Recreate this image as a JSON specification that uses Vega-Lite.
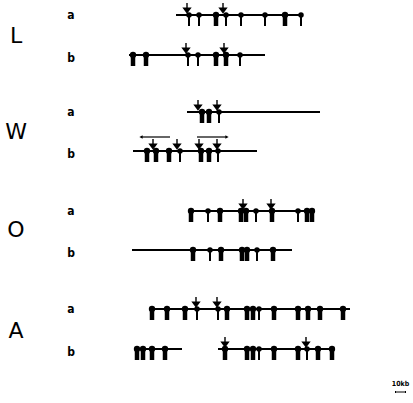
{
  "$schema": "https://vega.github.io/schema/vega-lite/v6.json",
  "width": 413,
  "height": 403,
  "autosize": {"type": "fit", "contains": "padding"},
  "padding": 0,
  "background": "white",
  "config": {"view": {"stroke": null}},
  "datasets": {
    "lines": [
      {"map": "La", "y": 15, "start": 176, "end": 302},
      {"map": "Lb", "y": 55, "start": 129, "end": 265},
      {"map": "Wa", "y": 112, "start": 187, "end": 320},
      {"map": "Wb", "y": 151, "start": 133, "end": 257},
      {"map": "Oa", "y": 211, "start": 191, "end": 313},
      {"map": "Ob", "y": 250, "start": 132, "end": 292},
      {"map": "Aa", "y": 309, "start": 150, "end": 350},
      {"map": "Ab1", "y": 349, "start": 135, "end": 182},
      {"map": "Ab2", "y": 349, "start": 218, "end": 333}
    ],
    "sites": [
      {"map": "La", "y": 15, "x": 189, "kind": "single"},
      {"map": "La", "y": 15, "x": 199, "kind": "single"},
      {"map": "La", "y": 15, "x": 216, "kind": "double"},
      {"map": "La", "y": 15, "x": 226, "kind": "single"},
      {"map": "La", "y": 15, "x": 241, "kind": "single"},
      {"map": "La", "y": 15, "x": 265, "kind": "single"},
      {"map": "La", "y": 15, "x": 285, "kind": "double"},
      {"map": "La", "y": 15, "x": 301, "kind": "single"},
      {"map": "Lb", "y": 55, "x": 133, "kind": "double"},
      {"map": "Lb", "y": 55, "x": 146, "kind": "double"},
      {"map": "Lb", "y": 55, "x": 188, "kind": "single"},
      {"map": "Lb", "y": 55, "x": 198, "kind": "single"},
      {"map": "Lb", "y": 55, "x": 216, "kind": "double"},
      {"map": "Lb", "y": 55, "x": 226, "kind": "double"},
      {"map": "Lb", "y": 55, "x": 240, "kind": "single"},
      {"map": "Wa", "y": 112, "x": 202, "kind": "double"},
      {"map": "Wa", "y": 112, "x": 209, "kind": "double"},
      {"map": "Wa", "y": 112, "x": 219, "kind": "single"},
      {"map": "Wb", "y": 151, "x": 147, "kind": "double"},
      {"map": "Wb", "y": 151, "x": 156, "kind": "double"},
      {"map": "Wb", "y": 151, "x": 169, "kind": "double"},
      {"map": "Wb", "y": 151, "x": 180, "kind": "single"},
      {"map": "Wb", "y": 151, "x": 201, "kind": "double"},
      {"map": "Wb", "y": 151, "x": 209, "kind": "double"},
      {"map": "Wb", "y": 151, "x": 218, "kind": "single"},
      {"map": "Oa", "y": 211, "x": 191, "kind": "double"},
      {"map": "Oa", "y": 211, "x": 208, "kind": "single"},
      {"map": "Oa", "y": 211, "x": 220, "kind": "double"},
      {"map": "Oa", "y": 211, "x": 241, "kind": "double"},
      {"map": "Oa", "y": 211, "x": 246, "kind": "double"},
      {"map": "Oa", "y": 211, "x": 256, "kind": "single"},
      {"map": "Oa", "y": 211, "x": 272, "kind": "double"},
      {"map": "Oa", "y": 211, "x": 298, "kind": "single"},
      {"map": "Oa", "y": 211, "x": 307, "kind": "double"},
      {"map": "Oa", "y": 211, "x": 312, "kind": "double"},
      {"map": "Ob", "y": 250, "x": 193, "kind": "double"},
      {"map": "Ob", "y": 250, "x": 210, "kind": "single"},
      {"map": "Ob", "y": 250, "x": 221, "kind": "double"},
      {"map": "Ob", "y": 250, "x": 242, "kind": "double"},
      {"map": "Ob", "y": 250, "x": 247, "kind": "double"},
      {"map": "Ob", "y": 250, "x": 257, "kind": "single"},
      {"map": "Ob", "y": 250, "x": 273, "kind": "double"},
      {"map": "Aa", "y": 309, "x": 152, "kind": "double"},
      {"map": "Aa", "y": 309, "x": 167, "kind": "double"},
      {"map": "Aa", "y": 309, "x": 185, "kind": "double"},
      {"map": "Aa", "y": 309, "x": 197, "kind": "single"},
      {"map": "Aa", "y": 309, "x": 218, "kind": "single"},
      {"map": "Aa", "y": 309, "x": 227, "kind": "double"},
      {"map": "Aa", "y": 309, "x": 247, "kind": "double"},
      {"map": "Aa", "y": 309, "x": 253, "kind": "double"},
      {"map": "Aa", "y": 309, "x": 259, "kind": "single"},
      {"map": "Aa", "y": 309, "x": 274, "kind": "double"},
      {"map": "Aa", "y": 309, "x": 298, "kind": "double"},
      {"map": "Aa", "y": 309, "x": 308, "kind": "double"},
      {"map": "Aa", "y": 309, "x": 320, "kind": "double"},
      {"map": "Aa", "y": 309, "x": 343, "kind": "double"},
      {"map": "Ab", "y": 349, "x": 137, "kind": "double"},
      {"map": "Ab", "y": 349, "x": 143, "kind": "double"},
      {"map": "Ab", "y": 349, "x": 152, "kind": "double"},
      {"map": "Ab", "y": 349, "x": 165, "kind": "double"},
      {"map": "Ab", "y": 349, "x": 225, "kind": "double"},
      {"map": "Ab", "y": 349, "x": 247, "kind": "double"},
      {"map": "Ab", "y": 349, "x": 253, "kind": "double"},
      {"map": "Ab", "y": 349, "x": 259, "kind": "single"},
      {"map": "Ab", "y": 349, "x": 274, "kind": "double"},
      {"map": "Ab", "y": 349, "x": 298, "kind": "double"},
      {"map": "Ab", "y": 349, "x": 307, "kind": "single"},
      {"map": "Ab", "y": 349, "x": 318, "kind": "double"},
      {"map": "Ab", "y": 349, "x": 332, "kind": "double"}
    ],
    "arrows": [
      {"map": "La", "y": 15, "x": 187},
      {"map": "La", "y": 15, "x": 223},
      {"map": "Lb", "y": 55, "x": 186},
      {"map": "Lb", "y": 55, "x": 224},
      {"map": "Wa", "y": 112, "x": 198},
      {"map": "Wa", "y": 112, "x": 217},
      {"map": "Wb", "y": 151, "x": 153},
      {"map": "Wb", "y": 151, "x": 177},
      {"map": "Wb", "y": 151, "x": 199},
      {"map": "Wb", "y": 151, "x": 217},
      {"map": "Oa", "y": 211, "x": 243},
      {"map": "Oa", "y": 211, "x": 271},
      {"map": "Aa", "y": 309, "x": 196},
      {"map": "Aa", "y": 309, "x": 217},
      {"map": "Ab", "y": 349, "x": 225},
      {"map": "Ab", "y": 349, "x": 306}
    ],
    "brackets": [
      {"y": 137, "start": 141, "end": 170, "tip": 141, "dir": "left"},
      {"y": 137, "start": 197, "end": 227, "tip": 227, "dir": "right"}
    ],
    "species": [
      {"label": "L", "x": 16, "y": 36},
      {"label": "W", "x": 16, "y": 132},
      {"label": "O", "x": 16, "y": 230},
      {"label": "A", "x": 16, "y": 331}
    ],
    "strands": [
      {"label": "a", "x": 71, "y": 19},
      {"label": "b", "x": 71, "y": 62},
      {"label": "a", "x": 71, "y": 116},
      {"label": "b", "x": 71, "y": 158},
      {"label": "a", "x": 71, "y": 215},
      {"label": "b", "x": 71, "y": 257},
      {"label": "a", "x": 71, "y": 313},
      {"label": "b", "x": 71, "y": 356}
    ],
    "scalebar": [
      {"label": "10kb", "start": 396, "end": 405, "y": 392, "ty": 386, "mid": 400.5}
    ]
  },
  "layer": [
    {
      "data": {"name": "lines"},
      "mark": {"type": "rule", "color": "black", "strokeWidth": 2},
      "encoding": {
        "x": {"field": "start", "type": "quantitative", "scale": {"domain": [0, 413], "nice": false, "zero": false}, "axis": null},
        "x2": {"field": "end"},
        "y": {"field": "y", "type": "quantitative", "scale": {"domain": [0, 403], "nice": false, "zero": false, "reverse": true}, "axis": null}
      }
    },
    {
      "data": {"name": "brackets"},
      "mark": {"type": "rule", "color": "black", "strokeWidth": 1.2},
      "encoding": {
        "x": {"field": "start", "type": "quantitative", "scale": {"domain": [0, 413], "nice": false, "zero": false}, "axis": null},
        "x2": {"field": "end"},
        "y": {"field": "y", "type": "quantitative", "scale": {"domain": [0, 403], "nice": false, "zero": false, "reverse": true}, "axis": null}
      }
    },
    {
      "data": {"name": "brackets"},
      "mark": {"type": "point", "filled": true, "color": "black", "size": 14, "opacity": 1},
      "encoding": {
        "x": {"field": "tip", "type": "quantitative", "scale": {"domain": [0, 413], "nice": false, "zero": false}, "axis": null},
        "y": {"field": "y", "type": "quantitative", "scale": {"domain": [0, 403], "nice": false, "zero": false, "reverse": true}, "axis": null},
        "shape": {"field": "dir", "type": "nominal", "scale": {"domain": ["left", "right"], "range": ["triangle-left", "triangle-right"]}, "legend": null}
      }
    },
    {
      "data": {"name": "sites"},
      "mark": {"type": "point", "shape": "M0,0L0,2", "filled": false, "color": "black", "size": 121, "opacity": 1},
      "encoding": {
        "x": {"field": "x", "type": "quantitative", "scale": {"domain": [0, 413], "nice": false, "zero": false}, "axis": null},
        "y": {"field": "y", "type": "quantitative", "scale": {"domain": [0, 403], "nice": false, "zero": false, "reverse": true}, "axis": null},
        "strokeWidth": {"field": "kind", "type": "nominal", "scale": {"domain": ["single", "double"], "range": [2, 4.5]}, "legend": null}
      }
    },
    {
      "data": {"name": "sites"},
      "mark": {"type": "point", "shape": "circle", "filled": true, "color": "black", "opacity": 1},
      "encoding": {
        "x": {"field": "x", "type": "quantitative", "scale": {"domain": [0, 413], "nice": false, "zero": false}, "axis": null},
        "y": {"field": "y", "type": "quantitative", "scale": {"domain": [0, 403], "nice": false, "zero": false, "reverse": true}, "axis": null},
        "size": {"field": "kind", "type": "nominal", "scale": {"domain": ["single", "double"], "range": [30, 40]}, "legend": null}
      }
    },
    {
      "data": {"name": "arrows"},
      "mark": {"type": "point", "shape": "M0,-2L0,-1M-0.55,-1.15L0.55,-1.15L0,-0.4Z", "filled": true, "color": "black", "stroke": "black", "strokeWidth": 1.4, "size": 144, "opacity": 1},
      "encoding": {
        "x": {"field": "x", "type": "quantitative", "scale": {"domain": [0, 413], "nice": false, "zero": false}, "axis": null},
        "y": {"field": "y", "type": "quantitative", "scale": {"domain": [0, 403], "nice": false, "zero": false, "reverse": true}, "axis": null}
      }
    },
    {
      "data": {"name": "species"},
      "mark": {"type": "text", "font": "DejaVu Sans", "fontSize": 22, "fontWeight": "normal", "align": "center", "baseline": "middle", "color": "black"},
      "encoding": {
        "x": {"field": "x", "type": "quantitative", "scale": {"domain": [0, 413], "nice": false, "zero": false}, "axis": null},
        "y": {"field": "y", "type": "quantitative", "scale": {"domain": [0, 403], "nice": false, "zero": false, "reverse": true}, "axis": null},
        "text": {"field": "label"}
      }
    },
    {
      "data": {"name": "strands"},
      "mark": {"type": "text", "font": "DejaVu Sans Condensed", "fontSize": 12, "fontWeight": "bold", "align": "center", "baseline": "alphabetic", "color": "black"},
      "encoding": {
        "x": {"field": "x", "type": "quantitative", "scale": {"domain": [0, 413], "nice": false, "zero": false}, "axis": null},
        "y": {"field": "y", "type": "quantitative", "scale": {"domain": [0, 403], "nice": false, "zero": false, "reverse": true}, "axis": null},
        "text": {"field": "label"}
      }
    },
    {
      "data": {"name": "scalebar"},
      "mark": {"type": "rule", "color": "black", "strokeWidth": 1},
      "encoding": {
        "x": {"field": "start", "type": "quantitative", "scale": {"domain": [0, 413], "nice": false, "zero": false}, "axis": null},
        "x2": {"field": "end"},
        "y": {"field": "y", "type": "quantitative", "scale": {"domain": [0, 403], "nice": false, "zero": false, "reverse": true}, "axis": null}
      }
    },
    {
      "data": {"name": "scalebar"},
      "mark": {"type": "point", "shape": "M-0.5,-1L-0.5,1M9.5,-1L9.5,1", "filled": false, "color": "black", "strokeWidth": 1, "size": 4, "opacity": 1},
      "encoding": {
        "x": {"field": "start", "type": "quantitative", "scale": {"domain": [0, 413], "nice": false, "zero": false}, "axis": null},
        "y": {"field": "y", "type": "quantitative", "scale": {"domain": [0, 403], "nice": false, "zero": false, "reverse": true}, "axis": null}
      }
    },
    {
      "data": {"name": "scalebar"},
      "mark": {"type": "text", "font": "DejaVu Sans Condensed", "fontSize": 7, "fontWeight": "bold", "align": "center", "baseline": "alphabetic", "color": "black"},
      "encoding": {
        "x": {"field": "mid", "type": "quantitative", "scale": {"domain": [0, 413], "nice": false, "zero": false}, "axis": null},
        "y": {"field": "ty", "type": "quantitative", "scale": {"domain": [0, 403], "nice": false, "zero": false, "reverse": true}, "axis": null},
        "text": {"field": "label"}
      }
    }
  ]
}
